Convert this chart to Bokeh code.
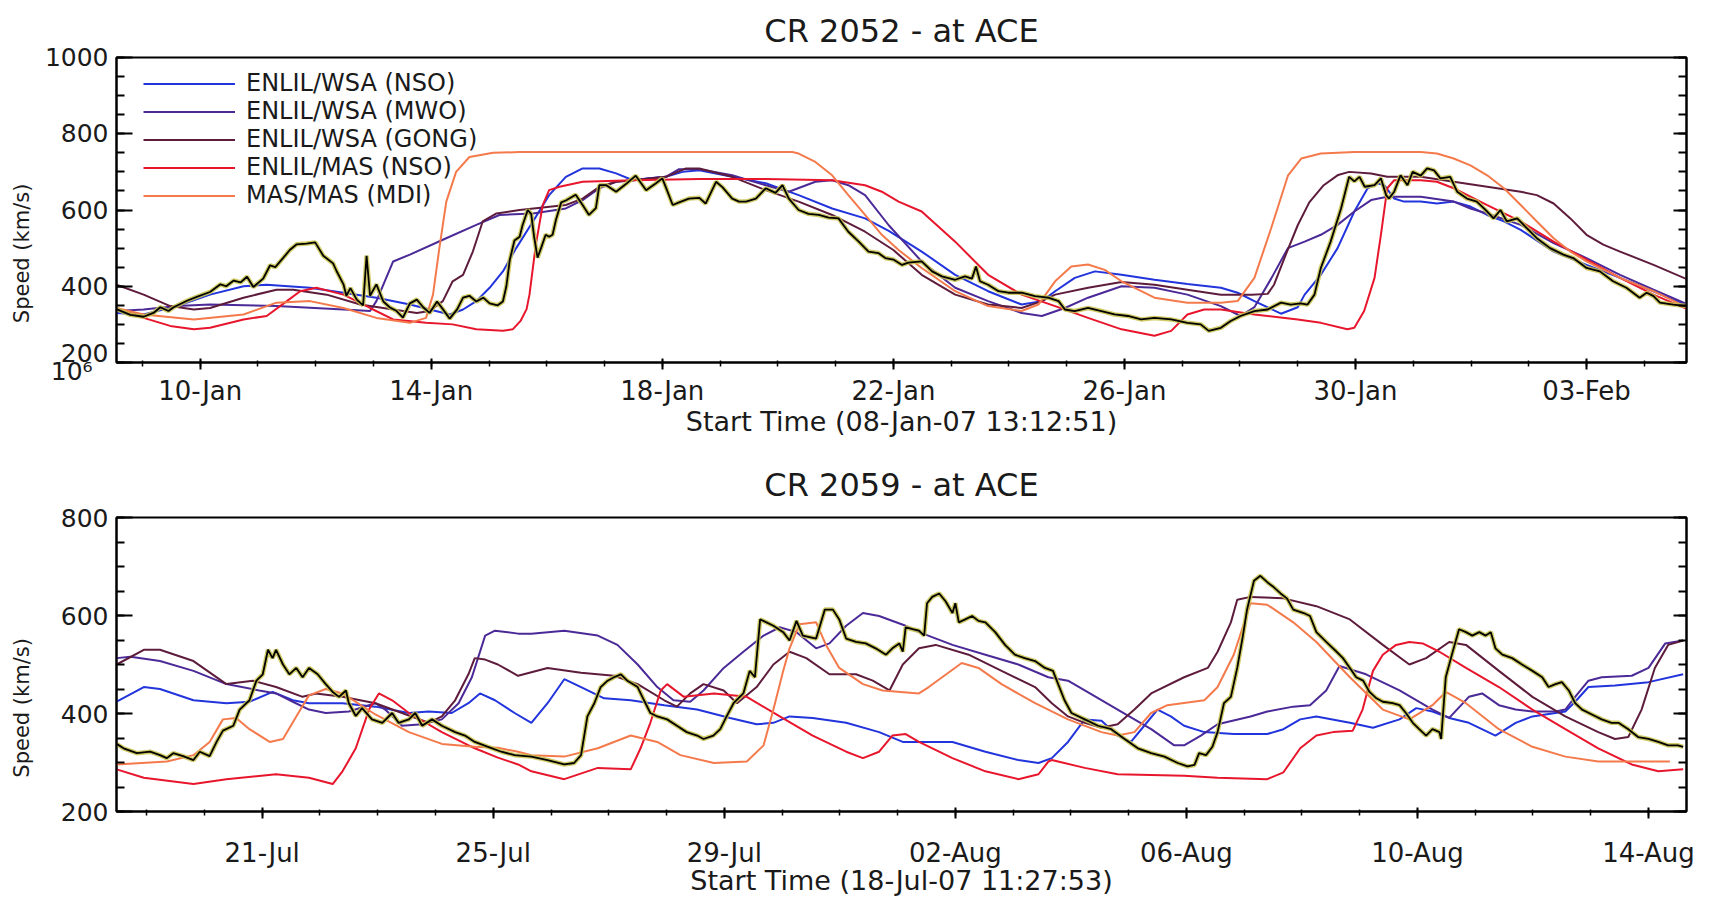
import datetime as dt
from bokeh.plotting import figure
from bokeh.models import (FixedTicker, SingleIntervalTicker, DatetimeTickFormatter, LinearAxis,
                          Range1d, Legend, LegendItem, Title, CustomLabelingPolicy)
from bokeh.layouts import column
from bokeh.embed import file_html
from bokeh.resources import INLINE

FONT = "DejaVu Sans"

# ---------------- labels / categories ----------------
series_names = ["ENLIL/WSA (NSO)", "ENLIL/WSA (MWO)", "ENLIL/WSA (GONG)", "ENLIL/MAS (NSO)", "MAS/MAS (MDI)"]
series_colors = ["#2234dc", "#4b2a98", "#5e1c3c", "#e8162c", "#f47a4c"]
obs_color = "#000000"
obs_shadow = "#c8c24c"

top_title = "CR 2052 - at ACE"
bot_title = "CR 2059 - at ACE"
top_xlabel = "Start Time (08-Jan-07 13:12:51)"
bot_xlabel = "Start Time (18-Jul-07 11:27:53)"
ylabel = "Speed (km/s)"
artifact_text = "10\u2076"

# day numbers counted from the 1st of the start month (Jan / Jul)
top_major_days = [10, 14, 18, 22, 26, 30, 34]
bot_major_days = [21, 25, 29, 33, 37, 41, 45]
top_minor_days = list(range(9, 36))
bot_minor_days = list(range(19, 46))
span_days = 27.18

# ---------------- CR 2052 (days of Jan 2007, speed km/s) ----------------
top_obs = [[8.55,340],[8.79,325],[9.02,320],[9.19,330],[9.31,345],[9.45,335],[9.54,345],[9.77,362],[9.94,372],
 [10.17,385],[10.35,405],[10.45,400],[10.58,415],[10.70,410],[10.81,425],[10.92,398],[11.09,420],[11.21,455],
 [11.30,450],[11.44,475],[11.55,495],[11.67,510],[11.84,512],[11.99,515],[12.13,480],[12.30,460],[12.36,440],
 [12.48,405],[12.53,375],[12.60,395],[12.71,365],[12.82,350],[12.88,480],[12.94,375],[13.05,405],[13.17,360],
 [13.28,345],[13.40,335],[13.51,318],[13.63,355],[13.75,365],[13.86,345],[13.97,330],[14.10,360],[14.20,340],
 [14.32,315],[14.45,340],[14.55,370],[14.66,375],[14.78,360],[14.90,370],[15.01,355],[15.15,350],[15.24,360],
 [15.30,400],[15.36,470],[15.44,520],[15.53,530],[15.58,560],[15.67,600],[15.73,590],[15.78,530],[15.84,475],
 [15.90,500],[15.98,535],[16.04,530],[16.10,535],[16.16,575],[16.25,620],[16.33,625],[16.50,640],[16.62,613],
 [16.73,587],[16.85,605],[16.91,665],[17.03,665],[17.20,648],[17.37,668],[17.54,690],[17.72,652],[17.89,670],
 [18.00,683],[18.06,660],[18.18,613],[18.29,620],[18.46,630],[18.64,632],[18.75,617],[18.93,674],[19.04,660],
 [19.21,630],[19.33,622],[19.45,622],[19.62,630],[19.79,657],[19.96,645],[20.08,665],[20.19,630],[20.36,600],
 [20.53,590],[20.71,587],[20.88,580],[21.05,578],[21.22,543],[21.40,517],[21.57,491],[21.74,487],[21.86,474],
 [22.00,470],[22.15,456],[22.26,462],[22.49,465],[22.67,439],[22.84,426],[23.07,417],[23.24,426],[23.36,420],
 [23.43,452],[23.50,413],[23.64,404],[23.82,387],[23.99,383],[24.22,383],[24.45,374],[24.68,370],[24.86,361],
 [24.97,339],[25.14,335],[25.37,343],[25.60,335],[25.83,326],[26.06,322],[26.29,313],[26.52,317],[26.81,313],
 [27.09,304],[27.32,300],[27.46,283],[27.67,291],[27.84,309],[28.01,322],[28.25,335],[28.48,339],[28.71,357],
 [28.88,352],[29.05,355],[29.17,352],[29.29,378],[29.40,448],[29.57,517],[29.75,604],[29.89,687],[29.98,675],
 [30.07,687],[30.16,661],[30.33,665],[30.44,683],[30.53,639],[30.58,630],[30.67,648],[30.78,691],[30.90,665],
 [30.99,700],[31.13,690],[31.24,709],[31.36,704],[31.47,683],[31.64,687],[31.76,648],[31.93,630],[32.10,622],
 [32.28,596],[32.39,578],[32.51,600],[32.62,570],[32.80,578],[32.97,552],[33.14,526],[33.37,500],[33.60,483],
 [33.77,474],[34.00,448],[34.23,439],[34.46,413],[34.69,396],[34.92,370],[35.04,383],[35.16,374],[35.27,357],
 [35.50,352],[35.73,348]]

top_nso = [[8.55,330],[9.02,326],[9.60,348],[10.17,378],[10.75,400],[11.15,404],[11.90,396],[12.48,383],
 [13.05,370],[13.63,352],[14.32,326],[14.55,339],[14.78,361],[15.01,396],[15.24,439],[15.47,500],[15.76,570],
 [16.04,639],[16.33,687],[16.62,709],[16.91,709],[17.20,696],[17.49,678],[17.77,683],[18.06,687],[18.35,700],
 [18.64,704],[19.21,687],[19.79,670],[20.36,639],[20.94,604],[21.51,578],[21.92,545],[22.49,491],[23.07,430],
 [23.64,387],[24.22,352],[24.57,361],[24.80,387],[25.14,422],[25.49,439],[25.95,430],[26.52,417],[27.09,406],
 [27.67,396],[27.96,383],[28.25,361],[28.71,328],[29.00,345],[29.12,378],[29.40,430],[29.69,500],[29.98,596],
 [30.21,657],[30.38,670],[30.50,665],[30.67,630],[30.84,622],[31.13,622],[31.41,617],[31.70,622],[31.99,609],
 [32.28,587],[32.57,570],[32.86,548],[33.43,491],[34.00,456],[34.58,422],[35.16,387],[35.76,348]]

top_mwo = [[8.55,335],[9.02,339],[9.60,348],[10.17,352],[11.32,348],[12.48,339],[12.94,335],[13.05,361],
 [13.22,422],[13.34,465],[13.63,483],[14.20,522],[14.78,561],[15.18,587],[15.76,591],[16.33,604],[16.62,626],
 [16.91,657],[17.20,674],[17.49,678],[18.06,687],[18.29,707],[18.64,707],[19.21,691],[19.79,665],[20.19,648],
 [20.65,674],[20.94,678],[21.22,665],[21.51,639],[21.92,560],[22.49,465],[23.07,396],[23.64,361],[24.22,330],
 [24.57,322],[24.97,343],[25.37,370],[25.95,400],[26.52,396],[27.09,378],[27.67,348],[28.01,322],[28.25,345],
 [28.54,420],[28.83,500],[29.12,517],[29.40,535],[29.69,561],[29.98,596],[30.27,626],[30.55,635],[31.13,635],
 [31.70,622],[31.99,604],[32.28,591],[32.86,561],[33.43,513],[34.00,474],[34.58,430],[35.16,391],[35.76,352]]

top_gong = [[8.55,404],[9.02,378],[9.48,348],[9.89,339],[10.17,343],[10.75,370],[11.32,391],[11.61,391],
 [12.19,378],[12.77,352],[13.34,339],[13.75,330],[13.97,335],[14.20,361],[14.37,413],[14.55,430],[14.72,491],
 [14.89,570],[15.13,591],[15.53,600],[16.33,613],[16.62,630],[16.91,661],[17.20,674],[17.49,678],[18.06,687],
 [18.41,709],[18.64,709],[19.21,687],[19.79,652],[20.36,622],[20.94,587],[21.51,543],[22.00,495],[22.49,430],
 [23.07,378],[23.64,352],[24.22,343],[24.57,361],[24.80,378],[25.37,396],[25.95,411],[26.52,404],[27.09,391],
 [27.67,378],[28.20,378],[28.48,380],[28.59,404],[28.77,474],[29.00,560],[29.20,620],[29.45,665],[29.70,692],
 [29.89,700],[30.27,696],[30.55,687],[31.13,687],[31.70,674],[32.28,661],[32.86,648],[33.14,639],[33.43,617],
 [33.72,578],[34.00,535],[34.29,509],[34.58,491],[35.16,456],[35.76,417]]

top_mas = [[8.55,343],[9.02,317],[9.48,296],[9.89,287],[10.17,291],[10.75,313],[11.15,322],[11.50,361],
 [11.73,387],[12.01,396],[12.48,378],[12.94,343],[13.34,313],[13.91,304],[14.37,300],[14.78,287],[15.24,283],
 [15.41,287],[15.55,310],[15.65,340],[15.70,378],[15.81,509],[15.93,613],[16.04,652],[16.22,661],[16.62,674],
 [17.49,678],[18.64,681],[19.79,681],[20.94,678],[21.51,665],[21.80,648],[22.09,622],[22.49,596],[23.07,517],
 [23.64,430],[24.22,378],[24.80,348],[25.37,317],[25.95,287],[26.52,270],[26.81,283],[27.09,326],[27.38,339],
 [27.67,339],[28.25,326],[29.00,313],[29.40,304],[29.86,287],[29.98,291],[30.15,335],[30.33,422],[30.44,535],
 [30.55,657],[30.67,678],[31.13,678],[31.41,674],[31.70,657],[32.28,613],[32.86,570],[33.43,517],[34.00,470],
 [34.58,422],[35.16,378],[35.76,339]]

top_mdi = [[8.55,343],[9.02,326],[9.89,313],[10.75,326],[11.32,357],[11.90,361],[12.48,343],[13.05,317],
 [13.63,304],[13.91,317],[14.03,378],[14.14,500],[14.26,622],[14.43,700],[14.66,739],[15.07,750],[15.53,752],
 [20.25,752],[20.36,748],[20.65,726],[20.94,691],[21.22,639],[21.51,587],[21.80,535],[22.09,495],[22.49,448],
 [23.07,387],[23.64,348],[24.22,335],[24.51,352],[24.80,413],[25.08,452],[25.37,457],[25.66,443],[25.95,413],
 [26.52,370],[27.09,357],[27.67,357],[27.96,361],[28.25,422],[28.54,552],[28.83,690],[29.06,735],[29.40,748],
 [29.98,752],[31.13,752],[31.41,748],[31.70,735],[31.99,717],[32.28,691],[32.57,657],[32.86,613],[33.14,570],
 [33.43,526],[33.72,491],[34.00,465],[34.58,422],[35.16,387],[35.76,343]]

# ---------------- CR 2059 (days of Jul 2007, speed km/s) ----------------
bot_obs = [[18.48,338],[18.60,329],[18.83,319],[19.06,322],[19.23,315],[19.35,309],[19.46,319],[19.63,313],
 [19.81,305],[19.92,322],[20.09,313],[20.21,342],[20.32,365],[20.50,375],[20.61,408],[20.78,427],[20.90,467],
 [21.01,480],[21.10,530],[21.18,513],[21.24,530],[21.36,500],[21.47,480],[21.59,493],[21.70,474],[21.81,493],
 [21.96,480],[22.10,460],[22.22,444],[22.33,434],[22.45,447],[22.50,421],[22.62,395],[22.73,411],[22.90,388],
 [23.08,381],[23.25,401],[23.36,381],[23.54,388],[23.65,401],[23.77,375],[23.94,388],[24.11,375],[24.34,362],
 [24.51,355],[24.68,342],[24.91,332],[25.14,322],[25.37,315],[25.66,312],[25.94,305],[26.23,296],[26.40,299],
 [26.52,315],[26.63,394],[26.75,421],[26.86,454],[26.98,467],[27.09,474],[27.21,480],[27.32,467],[27.50,454],
 [27.61,427],[27.72,401],[27.84,394],[28.01,388],[28.18,375],[28.35,362],[28.53,355],[28.64,348],[28.81,355],
 [28.93,368],[29.04,394],[29.16,421],[29.33,441],[29.44,487],[29.53,474],[29.62,592],[29.73,586],[29.85,579],
 [30.02,566],[30.13,549],[30.25,589],[30.36,559],[30.59,553],[30.74,612],[30.88,612],[30.99,592],[31.11,553],
 [31.28,546],[31.45,543],[31.62,533],[31.80,520],[31.91,533],[32.03,543],[32.09,526],[32.14,576],[32.26,572],
 [32.37,569],[32.46,559],[32.51,625],[32.60,638],[32.72,645],[32.83,629],[32.95,605],[33.00,625],[33.06,586],
 [33.17,592],[33.29,599],[33.40,589],[33.52,586],[33.69,566],[33.86,540],[34.03,520],[34.20,513],[34.38,507],
 [34.55,493],[34.69,487],[34.78,460],[34.89,427],[35.01,401],[35.24,388],[35.47,375],[35.70,368],[35.93,348],
 [36.16,329],[36.39,319],[36.62,312],[36.85,299],[37.02,292],[37.14,295],[37.22,319],[37.34,315],[37.45,332],
 [37.54,362],[37.65,421],[37.77,434],[37.88,493],[37.97,553],[38.05,612],[38.17,671],[38.28,681],[38.40,668],
 [38.51,658],[38.63,645],[38.74,635],[38.85,612],[39.03,605],[39.14,599],[39.25,566],[39.42,546],[39.60,526],
 [39.71,513],[39.83,493],[39.94,474],[40.06,467],[40.17,444],[40.29,431],[40.40,424],[40.57,421],[40.69,417],
 [40.80,401],[40.92,381],[41.03,368],[41.15,355],[41.26,368],[41.38,362],[41.41,348],[41.49,474],[41.61,526],
 [41.72,572],[41.84,566],[41.95,559],[42.07,566],[42.18,559],[42.27,566],[42.35,533],[42.47,520],[42.64,513],
 [42.81,500],[42.99,487],[43.16,474],[43.27,454],[43.39,460],[43.50,464],[43.62,447],[43.73,421],[43.85,408],
 [44.02,398],[44.19,388],[44.36,381],[44.48,381],[44.65,368],[44.82,352],[45.00,348],[45.17,342],[45.34,335],
 [45.51,335],[45.60,332]]

bot_nso = [[18.48,424],[18.95,454],[19.23,450],[19.81,427],[20.38,421],[20.78,424],[21.18,444],[21.53,427],
 [21.81,421],[22.39,421],[22.96,414],[23.54,401],[23.88,404],[24.28,401],[24.57,421],[24.77,441],[25.03,427],
 [25.37,401],[25.66,381],[25.94,421],[26.23,470],[26.52,454],[26.92,431],[27.38,427],[27.96,417],[28.53,408],
 [29.10,391],[29.56,378],[29.85,381],[30.13,394],[30.53,391],[31.11,381],[31.68,362],[32.09,342],[32.95,342],
 [33.52,322],[34.09,305],[34.44,299],[34.67,309],[34.95,342],[35.24,388],[35.53,385],[35.81,355],[36.04,342],
 [36.27,375],[36.50,408],[36.73,394],[36.96,375],[37.31,362],[37.82,358],[38.40,358],[38.68,368],[38.97,388],
 [39.25,394],[39.83,381],[40.23,371],[40.69,388],[40.98,411],[41.26,404],[41.55,391],[41.89,381],[42.35,355],
 [42.70,381],[42.99,394],[43.56,404],[43.73,424],[43.96,454],[44.42,457],[45.00,464],[45.60,480]]

bot_mwo = [[18.48,513],[18.72,516],[19.23,507],[19.81,487],[20.38,460],[20.95,447],[21.24,441],[21.53,424],
 [21.81,408],[22.10,401],[22.50,404],[22.96,421],[23.13,408],[23.42,375],[23.77,378],[24.11,388],[24.40,421],
 [24.63,474],[24.86,559],[25.03,569],[25.43,563],[25.66,563],[26.23,569],[26.81,559],[27.15,540],[27.50,500],
 [27.84,454],[28.12,427],[28.41,424],[28.64,447],[28.99,493],[29.33,526],[29.68,559],[29.96,576],[30.25,566],
 [30.59,533],[30.82,543],[31.11,579],[31.40,605],[31.68,599],[32.14,579],[32.37,566],[32.95,540],[33.52,520],
 [34.09,500],[34.61,474],[34.95,467],[35.24,447],[35.81,408],[36.39,368],[36.79,335],[36.96,335],[37.25,355],
 [37.54,378],[38.11,394],[38.40,404],[38.85,414],[39.14,417],[39.42,447],[39.65,497],[40.11,480],[40.69,447],
 [41.26,408],[41.55,391],[41.89,434],[42.12,441],[42.41,417],[42.70,408],[42.99,404],[43.39,404],[43.56,408],
 [43.73,434],[43.96,467],[44.19,474],[44.71,477],[45.00,493],[45.29,543],[45.60,549]]

bot_gong = [[18.48,500],[18.95,530],[19.23,530],[19.81,507],[20.38,460],[20.84,467],[21.24,454],[21.70,434],
 [21.93,441],[22.39,434],[22.96,421],[23.42,401],[23.88,381],[24.11,394],[24.34,427],[24.57,480],[24.68,513],
 [24.86,510],[25.08,500],[25.43,477],[25.94,493],[26.52,483],[27.09,477],[27.50,460],[27.96,427],[28.18,414],
 [28.41,441],[28.64,460],[28.99,447],[29.22,421],[29.56,454],[29.85,500],[30.13,526],[30.42,513],[30.82,480],
 [31.28,480],[31.57,467],[31.86,447],[32.09,500],[32.37,533],[32.66,540],[33.23,520],[33.80,487],[34.38,454],
 [34.67,421],[34.95,394],[35.24,381],[35.53,371],[35.81,378],[36.10,408],[36.39,441],[36.96,474],[37.37,493],
 [37.54,526],[37.77,586],[37.88,632],[38.11,638],[38.68,635],[39.25,619],[39.83,592],[40.40,540],[40.86,500],
 [41.15,513],[41.55,546],[41.84,540],[42.41,487],[42.99,434],[43.56,394],[44.13,362],[44.42,348],[44.65,352],
 [44.88,408],[45.11,493],[45.34,540],[45.60,549]]

bot_mas = [[18.48,286],[18.95,269],[19.81,256],[20.38,266],[21.24,276],[21.81,269],[22.22,256],[22.39,282],
 [22.62,329],[22.85,408],[23.02,441],[23.25,427],[23.54,401],[24.11,362],[24.68,329],[25.08,310],[25.43,296],
 [25.66,282],[26.23,266],[26.81,289],[27.38,286],[27.55,329],[27.72,381],[27.90,447],[28.01,460],[28.30,434],
 [28.82,441],[29.39,434],[29.96,394],[30.53,355],[31.11,322],[31.40,309],[31.68,322],[31.91,355],[32.14,358],
 [32.37,342],[32.95,309],[33.52,282],[34.09,266],[34.44,276],[34.61,302],[34.67,305],[35.24,289],[35.81,276],
 [36.96,273],[37.54,269],[38.40,266],[38.68,280],[38.97,329],[39.25,355],[39.54,362],[39.88,365],[40.05,408],
 [40.23,487],[40.40,520],[40.63,540],[40.86,546],[41.09,543],[41.38,526],[41.84,493],[42.41,454],[42.99,408],
 [43.56,368],[44.13,329],[44.71,296],[45.17,282],[45.60,286]]

bot_mdi = [[18.48,296],[19.35,302],[19.81,315],[20.09,342],[20.32,388],[20.55,391],[20.78,368],[21.13,342],
 [21.36,348],[21.59,394],[21.81,437],[22.10,450],[22.39,441],[22.96,398],[23.54,362],[24.11,338],[24.68,332],
 [25.08,330],[25.43,322],[25.66,315],[26.23,312],[26.81,329],[27.38,355],[27.84,342],[28.24,315],[28.82,299],
 [29.39,302],[29.68,335],[29.85,408],[30.02,487],[30.13,533],[30.30,582],[30.59,586],[30.76,540],[30.99,493],
 [31.40,460],[31.74,447],[32.37,441],[32.54,454],[33.11,503],[33.40,493],[33.80,460],[34.38,421],[34.95,388],
 [35.53,362],[35.81,355],[36.10,362],[36.39,401],[36.67,417],[37.31,427],[37.54,454],[37.82,520],[38.11,625],
 [38.40,622],[38.85,586],[39.25,546],[39.83,474],[40.40,408],[40.86,388],[41.26,417],[41.49,444],[41.84,421],
 [42.41,368],[42.99,332],[43.56,312],[44.13,302],[45.37,302]]

top_start = dt.datetime(2007, 1, 8, 13, 12, 51)
bot_start = dt.datetime(2007, 7, 18, 11, 27, 53)
top_base = dt.datetime(2007, 1, 1)
bot_base = dt.datetime(2007, 7, 1)

EPOCH = dt.datetime(1970, 1, 1)

HIDE_LABELS = CustomLabelingPolicy(code="""
const n = indices.size
for (let i = 0; i < n; i++) { indices.unset(i) }
return indices
""")

# pads the axis title so its visible part sits lower along the axis, as in the original
YLABEL_PAD = "\u00a0" * 13
ARTIFACT_PAD = "\u00a0" * 2


def to_dt(base, d):
    return base + dt.timedelta(days=d - 1)


def to_ms(t):
    return (t - EPOCH).total_seconds() * 1000.0


def make_panel(title, xlabel, base, start, ymin, ymax, major_days, minor_days,
               obs, models, height, border_top, border_bottom, title_standoff,
               ylab_standoff, xlab_standoff, tick_standoff, with_legend, with_artifact):
    p = figure(width=1713, height=height, x_axis_type="datetime",
               output_backend="svg", toolbar_location=None,
               x_range=Range1d(start, start + dt.timedelta(days=span_days)),
               y_range=Range1d(ymin, ymax),
               min_border_left=116, min_border_right=21,
               min_border_top=border_top, min_border_bottom=border_bottom)
    p.title = Title(text=title, align="center", text_font=FONT, text_font_size="32px",
                    text_font_style="normal", text_color="#1a1a1a", standoff=title_standoff)
    p.grid.visible = False
    p.outline_line_color = "black"
    p.outline_line_width = 2
    p.background_fill_color = "white"
    p.border_fill_color = "white"

    # x axis
    xa = p.xaxis[0]
    xa.ticker = FixedTicker(ticks=[to_ms(to_dt(base, d)) for d in major_days],
                            minor_ticks=[to_ms(to_dt(base, d)) for d in minor_days])
    xa.formatter = DatetimeTickFormatter(days="%d-%b", months="%d-%b", hours="%d-%b",
                                         years="%d-%b")
    xa.axis_line_width = 2
    xa.major_tick_in = 4
    xa.major_tick_out = 7
    xa.minor_tick_in = 2
    xa.minor_tick_out = 4
    xa.major_tick_line_width = 2
    xa.minor_tick_line_width = 1.5
    xa.major_label_text_font = FONT
    xa.major_label_text_font_size = "26px"
    xa.major_label_text_color = "#1a1a1a"
    xa.major_label_standoff = tick_standoff
    xa.axis_label = xlabel
    xa.axis_label_text_font = FONT
    xa.axis_label_text_font_size = "27px"
    xa.axis_label_text_font_style = "normal"
    xa.axis_label_text_color = "#1a1a1a"
    xa.axis_label_standoff = xlab_standoff

    # y axes
    ya = p.yaxis[0]
    ya.ticker = SingleIntervalTicker(interval=200, num_minor_ticks=4)
    ya.axis_line_width = 2
    ya.major_tick_in = 16
    ya.major_tick_out = 0
    ya.minor_tick_in = 8
    ya.minor_tick_out = 0
    ya.major_tick_line_width = 2
    ya.minor_tick_line_width = 2
    ya.major_label_text_font = FONT
    ya.major_label_text_font_size = "25px"
    ya.major_label_text_color = "#1a1a1a"
    ya.major_label_standoff = 8
    if with_artifact:
        ya.major_label_overrides = {ymin: "%d\n%s%s" % (ymin, artifact_text, ARTIFACT_PAD)}
        ya.major_label_text_line_height = 0.6
    ya.axis_label = ylabel + YLABEL_PAD
    ya.axis_label_text_font = FONT
    ya.axis_label_text_font_size = "21px"
    ya.axis_label_text_font_style = "normal"
    ya.axis_label_text_color = "#1a1a1a"
    ya.axis_label_standoff = ylab_standoff

    ry = LinearAxis(ticker=SingleIntervalTicker(interval=200, num_minor_ticks=4),
                    major_label_policy=HIDE_LABELS, major_label_standoff=0,
                    major_tick_in=13, major_tick_out=0, minor_tick_in=8, minor_tick_out=0,
                    axis_line_width=2, major_tick_line_width=2, minor_tick_line_width=2)
    p.add_layout(ry, "right")

    renderers = []
    for (data, color) in zip(models, series_colors):
        xs = [to_dt(base, d) for d, v in data]
        ys = [v for d, v in data]
        r = p.line(xs, ys, line_color=color, line_width=2)
        renderers.append(r)

    ox = [to_dt(base, d) for d, v in obs]
    oy = [v for d, v in obs]
    p.line(ox, oy, line_color=obs_shadow, line_width=4.5, line_alpha=0.85)
    p.line(ox, oy, line_color=obs_color, line_width=1.8)

    if with_legend:
        items = [LegendItem(label=n, renderers=[r]) for n, r in zip(series_names, renderers)]
        leg = Legend(items=items, location=(27, 153), orientation="vertical",
                     label_text_font=FONT, label_text_font_size="24px", label_text_color="#1a1a1a",
                     glyph_width=92, glyph_height=27, label_standoff=11, spacing=0,
                     padding=0, margin=0, border_line_alpha=0, background_fill_alpha=0)
        p.add_layout(leg)
    return p


p1 = make_panel(top_title, top_xlabel, top_base, top_start, 200, 1000,
                top_major_days, top_minor_days, top_obs,
                [top_nso, top_mwo, top_gong, top_mas, top_mdi],
                449, 57, 87, 16, 8, -3, 6, True, True)
p2 = make_panel(bot_title, bot_xlabel, bot_base, bot_start, 200, 800,
                bot_major_days, bot_minor_days, bot_obs,
                [bot_nso, bot_mwo, bot_gong, bot_mas, bot_mdi],
                449, 68, 78, 27, 24, -6, 19, False, False)

layout = column(p1, p2, spacing=0)
open("out.html", "w").write(file_html(layout, INLINE))
